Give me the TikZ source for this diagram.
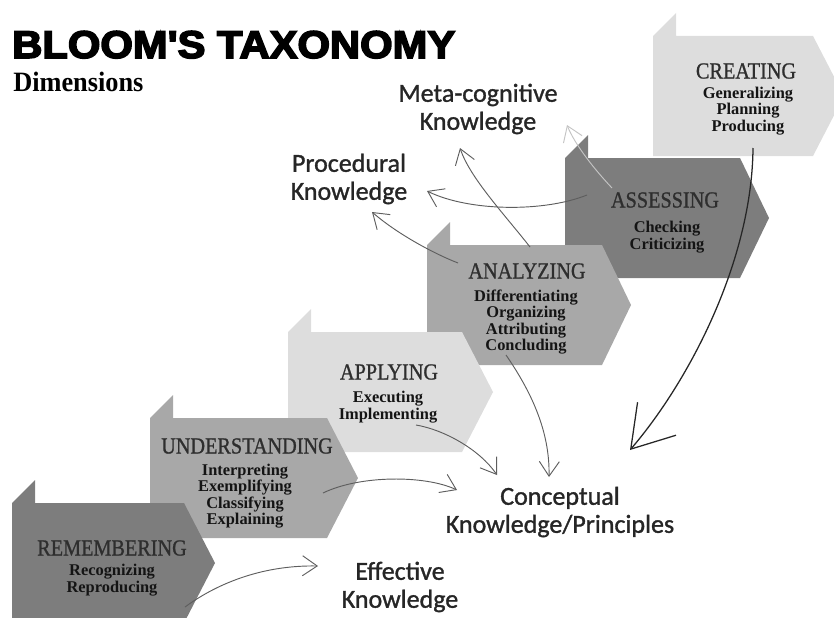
\documentclass[tikz,border=0pt]{standalone}
\usepackage{fontspec}
\usepackage{graphicx}
\setmainfont{Liberation Serif}
\newfontfamily\headfont[FakeBold=4,Ligatures=TeXOff]{Liberation Sans Bold}
\newfontfamily\namefont[FakeBold=1]{Liberation Serif}
\newfontfamily\knowfont[FakeBold=1.2]{Carlito}
\usetikzlibrary{arrows.meta}

\definecolor{stepdark}{HTML}{7D7D7D}
\definecolor{stepmid}{HTML}{A8A8A8}
\definecolor{steplight}{HTML}{DDDDDD}
\definecolor{namegray}{HTML}{2E2E2E}
\definecolor{labelgray}{HTML}{262626}
\definecolor{linkgray}{HTML}{5E5E5E}
\definecolor{faintgray}{HTML}{C4C4C4}

% one stair step: left edge, top edge, x of the top-right corner, x of the point, fill style
\newcommand{\stairstep}[5]{%
  \fill[#5] (#1,#2) -- (#1+23,#2-23) -- (#1+23,#2) -- (#3,#2)
    -- (#4,#2+60) -- (#3,#2+120) -- (#1,#2+120) -- cycle;}

\tikzset{
  darkstep/.style={fill=stepdark},
  midstep/.style={fill=stepmid},
  lightstep/.style={fill=steplight},
  stepname/.style={inner sep=0pt, text=namegray,
    font=\namefont\fontsize{17.25}{18}\selectfont},
  stepitems/.style={inner sep=0pt, align=center, text=black!92,
    font=\bfseries\fontsize{12.3}{12.2}\selectfont},
  knowledge/.style={inner sep=0pt, align=center, text=labelgray,
    font=\knowfont\fontsize{19.5}{21}\selectfont},
  link/.style={draw=linkgray, line width=0.7pt,
    -{Straight Barb[length=11pt,width=15pt]}},
  faintlink/.style={link, draw=faintgray},
  boldlink/.style={draw=black!85, line width=0.95pt,
    -{Straight Barb[length=30pt,width=38pt]}},
}

\newcommand{\stepword}[1]{\scalebox{0.88}[1]{#1}}

\begin{document}
\begin{tikzpicture}[x=0.75pt, y=-0.75pt]
\useasboundingbox (0,0) rectangle (834,617);

\begin{scope}
  \clip (0,0) rectangle (834,617);
  % steps, highest first so that each lower step lies in front
  \stairstep{653}{36}{813}{844}{lightstep}
  \stairstep{565}{158}{740}{769}{darkstep}
  \stairstep{427}{245}{602}{631}{midstep}
  \stairstep{288}{332}{462}{493}{lightstep}
  \stairstep{150}{418}{327}{358}{midstep}
  \stairstep{12}{503}{184}{215}{darkstep}
\end{scope}

% heading
\node[anchor=base west, inner sep=0pt] (title) at (12,58)
  {\scalebox{1.08}[1]{\headfont\fontsize{29}{30}\selectfont BLOOM'S TAXONOMY}};
\node[anchor=base west, inner sep=0pt] (dims) at (13,91)
  {\scalebox{0.94}[1]{\bfseries\fontsize{21}{22}\selectfont Dimensions}};

% step names and their verbs
\node[stepname] (rem) at (112,548) {\stepword{REMEMBERING}};
\node[stepitems] (rem-items) at (112,580) {Recognizing\\Reproducing};

\node[stepname] (und) at (247,446) {\stepword{UNDERSTANDING}};
\node[stepitems] (und-items) at (245,496) {Interpreting\\Exemplifying\\Classifying\\Explaining};

\node[stepname] (app) at (389,372) {\stepword{APPLYING}};
\node[stepitems] (app-items) at (388,407) {Executing\\Implementing};

\node[stepname] (ana) at (527,271) {\stepword{ANALYZING}};
\node[stepitems] (ana-items) at (526,322) {Differentiating\\Organizing\\Attributing\\Concluding};

\node[stepname] (ass) at (665,200) {\stepword{ASSESSING}};
\node[stepitems] (ass-items) at (667,237) {Checking\\Criticizing};

\node[stepname] (cre) at (746,71) {\stepword{CREATING}};
\node[stepitems] (cre-items) at (748,111) {Generalizing\\Planning\\Producing};

% knowledge dimensions
\node[knowledge] (meta) at (478,109) {Meta-cognitive\\Knowledge};
\node[knowledge] (proc) at (349,179) {Procedural\\Knowledge};
\node[knowledge] (concept) at (560,512) {Conceptual\\Knowledge/Principles};
\node[knowledge] (effect) at (400,587) {Effective\\Knowledge};

% connector ends
\coordinate (rem-out) at (185,607);
\coordinate (effect-in) at (318,566);
\coordinate (und-out) at (323,493);
\coordinate (concept-in1) at (457,490);
\coordinate (app-out) at (416,425);
\coordinate (concept-in2) at (497,475);
\coordinate (ana-out1) at (506,355);
\coordinate (concept-in3) at (549,477);
\coordinate (cre-out) at (753,148);
\coordinate (concept-in4) at (630,450);
\coordinate (ana-out2) at (458,263);
\coordinate (proc-in1) at (372,212);
\coordinate (ass-out1) at (587,195);
\coordinate (proc-in2) at (427,191);
\coordinate (ana-out3) at (530,247);
\coordinate (meta-in1) at (460,148);
\coordinate (ass-out2) at (612,188);
\coordinate (meta-in2) at (567,125);

% connectors
\draw[link] (rem-out) .. controls (215,585) and (260,565) .. (effect-in);
\draw[link] (und-out) .. controls (360,475) and (425,475) .. (concept-in1);
\draw[link] (app-out) .. controls (445,430) and (480,450) .. (concept-in2);
\draw[link] (ana-out1) .. controls (530,390) and (550,430) .. (concept-in3);
\draw[boldlink] (cre-out) .. controls (752,260) and (690,380) .. (concept-in4);
\draw[link] (ana-out2) .. controls (430,252) and (395,232) .. (proc-in1);
\draw[link] (ass-out1) .. controls (545,212) and (470,212) .. (proc-in2);
\draw[link] (ana-out3) .. controls (505,215) and (470,178) .. (meta-in1);
\draw[faintlink] (ass-out2) .. controls (595,170) and (575,145) .. (meta-in2);
\end{tikzpicture}
\end{document}
